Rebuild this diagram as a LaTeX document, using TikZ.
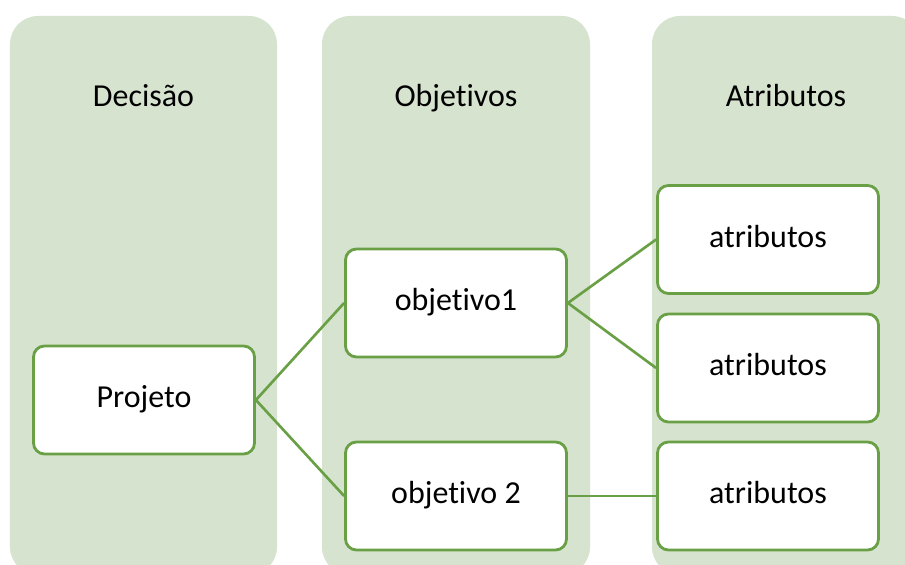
\documentclass[tikz,border=0pt]{standalone}
\usepackage{fontspec}
\setmainfont{Carlito}[Ligatures=NoCommon]
\usepackage{tikz}
\definecolor{greenD}{HTML}{6AA045}
\definecolor{paleG}{HTML}{D6E3CE}

\begin{document}
\begin{tikzpicture}[
    every node/.style={text height=0.9em, text depth=0pt, inner sep=0pt, font=\fontsize{18.2}{22}\selectfont},
    box/.style={draw=greenD, line width=1.6pt, fill=white, rounded corners=0.22cm, minimum width=4.42cm, minimum height=2.16cm},
    column/.style={paleG, rounded corners=0.56cm},
    link/.style={greenD, line width=1.5pt}
]
\useasboundingbox (0,0) rectangle (18.1,11.3);
% background columns
\begin{scope}
\clip (0,0) rectangle (18.1,11.3);
\fill[column] (0.2,-0.2) rectangle (5.54,10.98);
\fill[column] (6.44,-0.2) rectangle (11.8,10.98);
\fill[column] (13.04,-0.2) rectangle (18.4,10.98);
\end{scope}
\node (hdec) at (2.87,9.32) {Decisão};
\node (hobj) at (9.12,9.32) {Objetivos};
\node (hatr) at (15.72,9.32) {Atributos};
% boxes
\node[box] (proj) at (2.88,3.3) {Projeto};
\node[box] (obj1) at (9.12,5.24) {objetivo1};
\node[box] (obj2) at (9.12,1.38) {objetivo 2};
\node[box] (atr1) at (15.36,6.51) {atributos};
\node[box] (atr2) at (15.36,3.94) {atributos};
\node[box] (atr3) at (15.36,1.38) {atributos};
% links
\draw[link] (proj.east) -- (obj1.west);
\draw[link] (proj.east) -- (obj2.west);
\draw[link] (obj1.east) -- (atr1.west);
\draw[link] (obj1.east) -- (atr2.west);
\draw[link] (obj2.east) -- (atr3.west);
\end{tikzpicture}
\end{document}
